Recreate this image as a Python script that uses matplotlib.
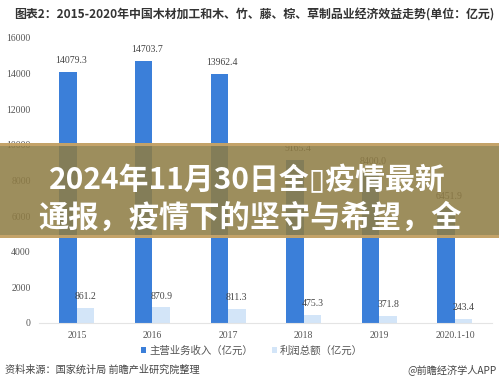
import matplotlib
matplotlib.use("Agg")
import matplotlib.pyplot as plt
import numpy as np
from matplotlib.patches import Rectangle

plt.rcParams['font.family'] = ['Noto Sans CJK SC', 'DejaVu Sans']

categories = ['2015', '2016', '2017', '2018', '2019', '2020.1-10']
revenue = [14079.3, 14703.7, 13962.4, 9165.4, 8400.0, 6451.9]
profit = [861.2, 870.9, 811.3, 475.3, 371.8, 243.4]
yticks = [0, 2000, 4000, 6000, 8000, 10000, 12000, 14000, 16000]

title = '图表2：2015-2020年中国木材加工和木、竹、藤、棕、草制品业经济效益走势(单位：亿元)'
legend_labels = ['主营业务收入（亿元）', '利润总额（亿元）']
source = '资料来源：国家统计局 前瞻产业研究院整理'
credit = '@前瞻经济学人APP'
banner_lines = ['2024年11月30日全\u25af疫情最新', '通报，疫情下的坚守与希望，全']

W, H = 499, 385
fig = plt.figure(figsize=(W / 100, H / 100), dpi=100)
fig.patch.set_facecolor('white')

ax = fig.add_axes([39 / W, (H - 323) / H, (492 - 39) / W, (323 - 38) / H])
x = np.arange(len(categories))
bw = 0.232
blue = '#3b7fd9'
light = '#d3e5f8'
b1 = ax.bar(x - bw / 2, revenue, bw, color=blue, label=legend_labels[0])
b2 = ax.bar(x + bw / 2, profit, bw, color=light, label=legend_labels[1])

serif = 'Liberation Serif'
for xi, v in zip(x, revenue):
    ax.annotate(f'{v:.1f}', (xi - bw / 2 + 0.04, v), xytext=(0, 5), textcoords='offset points',
                ha='center', va='bottom', fontsize=7, family=serif, color='#444444')
for xi, v in zip(x, profit):
    ax.annotate(f'{v:.1f}', (xi + bw / 2, v), xytext=(0, 5), textcoords='offset points',
                ha='center', va='bottom', fontsize=7, family=serif, color='#444444')

ax.set_xlim(-0.5, 5.49)
ax.set_ylim(0, 16000)
ax.set_yticks(yticks)
ax.set_yticklabels([str(t) for t in yticks], family=serif, fontsize=7, color='#555555')
ax.set_xticks(x)
ax.set_xticklabels(categories, family=serif, fontsize=7, color='#555555')
ax.tick_params(length=0, pad=6)
for s in ['top', 'right', 'left']:
    ax.spines[s].set_visible(False)
ax.spines['bottom'].set_color('#e4e4e4')
ax.spines['bottom'].set_linewidth(0.8)
ax.set_facecolor('none')

leg = fig.legend(handles=[b1, b2], labels=legend_labels, loc='center', bbox_to_anchor=(252 / W, (H - 351) / H),
                 ncol=2, frameon=False, fontsize=7.5, handlelength=0.5, handleheight=0.5,
                 handletextpad=0.3, columnspacing=1.8, labelcolor='#555555')

fig.text(14 / W, (H - 15) / H, title, fontsize=8.6, fontweight='bold', color='#333333', va='center', ha='left')
fig.text(5 / W, (H - 370) / H, source, fontsize=7.3, color='#444444', va='center', ha='left')
fig.text(497 / W, (H - 370) / H, credit, fontsize=7.3, color='#444444', va='center', ha='right')

# overlay banner
fig.patches.append(Rectangle((0, (H - 238) / H), 1, 95 / H, transform=fig.transFigure,
                             facecolor='#8f7d45', alpha=0.87, edgecolor='none', zorder=5))
fig.patches.append(Rectangle((0, (H - 238) / H), 1, 3 / H, transform=fig.transFigure,
                             facecolor='#c9a66b', alpha=0.9, edgecolor='none', zorder=5))
fig.patches.append(Rectangle((0, (H - 146) / H), 1, 3 / H, transform=fig.transFigure,
                             facecolor='#c9a66b', alpha=0.9, edgecolor='none', zorder=5))
fig.text(247 / W, (H - 180) / H, banner_lines[0], fontsize=21.5, fontweight='bold', color='white',
         ha='center', va='center', zorder=6)
fig.text(250 / W, (H - 218) / H, banner_lines[1], fontsize=21.8, fontweight='bold', color='white',
         ha='center', va='center', zorder=6)

fig.savefig('out.png', dpi=100)
